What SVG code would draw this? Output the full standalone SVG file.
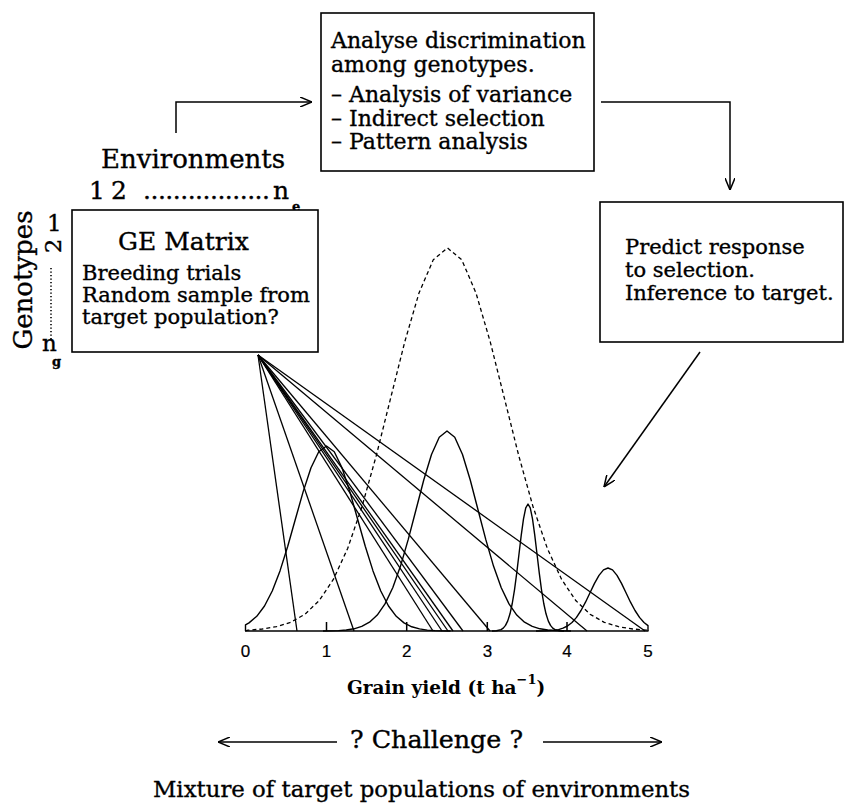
<svg xmlns="http://www.w3.org/2000/svg" width="844" height="806" viewBox="0 0 844 806">
<style>
text { font-family: "DejaVu Serif", "Liberation Serif", serif; fill: #000; stroke: #000; stroke-width: 0.35; }
.t { font-size: 21px; }
.tt { font-size: 22px; }
.big { font-size: 25px; }
.sub { font-size: 13px; font-weight: bold; }
.ax { font-family: "Liberation Sans", Arial, sans-serif; font-size: 17px; text-anchor: middle; stroke-width: 0.2; }
.box { fill: #fff; stroke: #000; stroke-width: 1.6; }
.ln { fill: none; stroke: #000; stroke-width: 1.5; }
.cv { fill: none; stroke: #000; stroke-width: 1.4; stroke-linejoin: round; }
.dash { fill: none; stroke: #000; stroke-width: 1.3; stroke-dasharray: 4 3; }
.fan line { stroke: #000; stroke-width: 1.3; }
</style>
<defs>
<marker id="ah" viewBox="0 0 12 10" refX="12" refY="5" markerWidth="12" markerHeight="10" markerUnits="userSpaceOnUse" orient="auto">
<path d="M0,0 L12,5 L0,10" fill="none" stroke="#000" stroke-width="1.5"/>
</marker>
</defs>
<rect width="844" height="806" fill="#fff"/>

<!-- connectors -->
<g id="connectors">
<polyline class="ln" points="176,133 176,102 312,102" marker-end="url(#ah)"/>
<polyline class="ln" points="601,102 730,102 730,190" marker-end="url(#ah)"/>
<line class="ln" x1="700" y1="352" x2="604" y2="487" marker-end="url(#ah)"/>
<line class="ln" x1="337" y1="742" x2="218" y2="742" marker-end="url(#ah)"/>
<line class="ln" x1="543" y1="742" x2="662" y2="742" marker-end="url(#ah)"/>
<g class="fan">
<line x1="258" y1="355" x2="297" y2="631"/>
<line x1="258" y1="355" x2="354" y2="631"/>
<line x1="258" y1="355" x2="433" y2="631"/>
<line x1="258" y1="355" x2="442" y2="631"/>
<line x1="258" y1="355" x2="448" y2="631"/>
<line x1="258" y1="355" x2="453" y2="631"/>
<line x1="258" y1="355" x2="463" y2="631"/>
<line x1="258" y1="355" x2="490" y2="631"/>
<line x1="258" y1="355" x2="587" y2="631"/>
<line x1="258" y1="355" x2="645" y2="631"/>
</g>
</g>

<!-- top box -->
<g id="analyse">
<rect class="box" x="321" y="13" width="273" height="158"/>
<text class="tt" x="331" y="48">Analyse discrimination</text>
<text class="tt" x="331" y="72">among genotypes.</text>
<text class="tt" x="331" y="102">– Analysis of variance</text>
<text class="tt" x="331" y="126">– Indirect selection</text>
<text class="tt" x="331" y="149">– Pattern analysis</text>
</g>

<!-- GE matrix -->
<g id="ge-matrix">
<text class="big" x="101" y="168" style="font-size:26px">Environments</text>
<text class="big" x="89" y="199">1</text>
<text class="big" x="111" y="199">2</text>
<text class="big" x="143" y="199" textLength="127" lengthAdjust="spacing">.................</text>
<text class="big" x="273" y="199">n</text>
<text class="sub" x="292" y="211">e</text>
<text class="big" transform="translate(32,280) rotate(-90)" text-anchor="middle" style="font-size:26px">Genotypes</text>
<text class="big" x="47" y="231" style="font-size:23px">1</text>
<text class="big" transform="translate(53,246) rotate(-90)" text-anchor="middle" dy="8" style="font-size:23px">2</text>
<line x1="51" y1="268" x2="51" y2="340" stroke="#000" stroke-width="1.6" stroke-dasharray="1.2 2.3"/>
<text class="big" x="42" y="351" style="font-size:23px">n</text>
<text class="sub" x="52" y="366">g</text>
<rect class="box" x="72" y="210" width="246" height="142"/>
<text class="big" x="118" y="250">GE Matrix</text>
<text class="t" x="82" y="280">Breeding trials</text>
<text class="t" x="82" y="302">Random sample from</text>
<text class="t" x="82" y="324">target population?</text>
</g>

<!-- predict box -->
<g id="predict">
<rect class="box" x="600" y="202" width="243" height="140"/>
<text class="t" x="625" y="254">Predict response</text>
<text class="t" x="625" y="277">to selection.</text>
<text class="t" x="625" y="300">Inference to target.</text>
</g>

<!-- graph -->
<g id="graph">
<polyline class="dash" points="245.5,630.9 248,630.2 262.25,629 276.5,626.7 290.75,622.3 305,614.2 319.25,600.5 333.5,579.2 347.75,548.2 362,506.6 376.25,455.7 390.5,398.7 404.75,341.9 419,293 433.25,259.8 447.5,248 461.75,259.8 476,293 490.25,341.9 504.5,398.7 518.75,455.7 533,506.6 547.25,548.2 561.5,579.2 575.75,600.5 590,614.2 604.25,622.3 618.5,626.7 632.75,629 647,630.2"/>
<polyline class="cv" points="245.5,631 245.5,624.9 249,622.9 256.75,616.3 264.5,606 272.25,591 280,570.9 287.75,546.3 295.5,518.8 303.25,491.4 311,467.7 318.75,451.7 326.5,446 334.25,451.7 342,467.7 349.75,491.4 357.5,518.8 365.25,546.3 373,570.9 380.75,591 388.5,606 396.25,616.3 404,622.9 411.75,626.8 419.5,628.9 427.25,630.1 435,630.6 450.5,631"/>
<polyline class="cv" points="323,631 338.5,630.6 346.25,630 354,628.8 361.75,626.4 369.5,622.2 377.25,615.1 385,603.9 392.75,587.7 400.5,566.1 408.25,539.4 416,509.7 423.75,480 431.5,454.5 439.25,437.2 447,431 454.75,437.2 462.5,454.5 470.25,480 478,509.7 485.75,539.4 493.5,566.1 501.25,587.7 509,603.9 516.75,615.1 524.5,622.2 532.25,626.4 540,628.8 547.75,630 555.5,630.6 571,631"/>
<polyline class="cv" points="492,631 496.5,630.7 501,629.6 503.25,628.1 505.5,625.4 507.75,620.9 510,613.8 512.25,603.5 514.5,589.8 516.75,572.9 519,554 521.25,535.1 523.5,518.9 525.75,507.9 528,504 530.25,507.9 532.5,518.9 534.75,535.1 537,554 539.25,572.9 541.5,589.8 543.75,603.5 546,613.8 548.25,620.9 550.5,625.4 552.75,628.1 555,629.6 559.5,630.7 564,631"/>
<polyline class="cv" points="536,631 545,630.9 554,630.3 558.5,629.6 563,628.2 567.5,626 572,622.5 576.5,617.4 581,610.5 585.5,602.2 590,592.8 594.5,583.4 599,575.4 603.5,569.9 608,568 612.5,569.9 617,575.4 621.5,583.4 626,592.8 630.5,602.2 635,610.5 639.5,617.4 644,622.5 648,625.6 648,631"/>
<line class="ln" x1="245" y1="631" x2="648.5" y2="631" stroke-width="2"/>
<path class="ln" d="M326.5,631 V622 M406.7,631 V622 M487.3,631 V622 M567,631 V622"/>
<text class="ax" x="245.5" y="657">0</text>
<text class="ax" x="326.5" y="657">1</text>
<text class="ax" x="406.7" y="657">2</text>
<text class="ax" x="487.5" y="657">3</text>
<text class="ax" x="567" y="657">4</text>
<text class="ax" x="648" y="657">5</text>
<text x="347" y="694" style="font-size:18.5px;font-weight:bold;stroke-width:0">Grain yield (t ha<tspan dy="-10" style="font-size:13px">−1</tspan><tspan dy="10">)</tspan></text>
</g>

<g id="challenge">
<text x="350" y="748" style="font-size:24px" textLength="173" lengthAdjust="spacingAndGlyphs">? Challenge ?</text>
<text x="153" y="797" style="font-size:23px" textLength="537" lengthAdjust="spacingAndGlyphs">Mixture of target populations of environments</text>
</g>
</svg>
